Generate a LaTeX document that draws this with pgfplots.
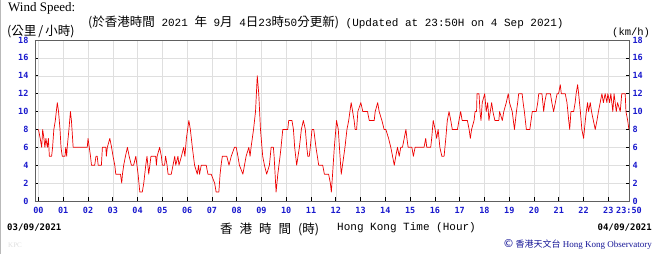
\documentclass[border=0pt]{standalone}
\usepackage{pgfplots}
\pgfplotsset{compat=1.18}
\usepackage{pgfplotstable}
\usepackage{fontspec}
\setmainfont{Liberation Serif}
\newfontfamily\cjk{Noto Sans CJK TC}
\newfontfamily\mono{Liberation Mono}
\newfontfamily\tickfont{DejaVu Sans Mono}
\definecolor{tblue}{RGB}{25,25,205}
\definecolor{hkoblue}{RGB}{20,20,150}
\definecolor{wred}{RGB}{238,0,0}
\newcommand{\cj}[1]{{\cjk\fontsize{12.5}{13}\selectfont #1}}

\pgfplotstableread{
h v
0.00 8
0.07 7
0.13 6
0.17 8
0.22 7
0.26 6
0.30 7
0.36 6
0.40 7
0.44 5
0.53 5
0.57 6
0.62 8
0.68 9
0.76 11
0.81 10
0.87 8
0.91 6
0.96 5
1.07 5
1.10 6
1.14 5
1.16 6
1.23 8
1.29 10
1.33 9
1.40 6
1.97 6
2.00 7
2.05 6
2.10 5
2.14 4
2.27 4
2.32 5
2.37 5
2.41 4
2.54 4
2.58 6
2.72 6
2.74 5
2.78 6
2.88 7
2.95 6
3.01 5
3.08 4
3.12 3
3.31 3
3.36 2
3.39 3
3.44 4
3.51 5
3.59 6
3.66 5
3.75 4
3.84 4
3.93 5
4.02 3
4.09 1
4.19 1
4.25 2
4.33 4
4.38 5
4.45 3
4.54 5
4.73 5
4.76 4
4.79 5
4.89 6
4.96 5
5.00 4
5.09 4
5.13 5
5.19 4
5.23 3
5.36 3
5.43 4
5.50 5
5.54 4
5.63 5
5.67 4
5.77 5
5.86 6
5.91 5
5.97 7
6.07 9
6.13 8
6.21 6
6.30 4
6.41 3
6.46 4
6.50 3
6.57 4
6.77 4
6.84 3
6.97 3
7.11 2
7.17 1
7.28 1
7.33 3
7.37 4
7.42 5
7.60 5
7.69 4
7.78 5
7.91 6
7.98 6
8.05 5
8.11 4
8.25 3
8.38 5
8.49 6
8.54 5
8.58 6
8.68 8
8.76 10
8.83 14
8.89 12
8.96 8
9.05 5
9.12 4
9.21 3
9.32 4
9.39 6
9.48 6
9.51 5
9.55 3
9.59 1
9.66 3
9.75 5
9.79 6
9.86 8
10.06 8
10.10 9
10.23 9
10.29 8
10.34 6
10.42 4
10.53 6
10.61 8
10.69 9
10.77 8
10.83 6
10.87 5
10.93 5
10.97 6
11.04 8
11.11 8
11.20 6
11.31 4
11.47 4
11.54 3
11.71 3
11.78 2
11.82 1
11.87 3
11.94 6
12.03 9
12.10 8
12.17 5
12.22 3
12.27 4
12.37 6
12.45 8
12.52 9
12.62 11
12.68 10
12.74 9
12.78 8
12.84 8
12.89 10
13.01 11
13.09 10
13.28 10
13.35 9
13.55 9
13.59 10
13.69 11
13.75 10
13.86 9
13.95 8
14.02 8
14.13 7
14.22 6
14.29 5
14.36 4
14.42 5
14.49 6
14.56 5
14.62 6
14.69 6
14.76 7
14.83 8
14.87 7
14.92 6
15.07 6
15.13 5
15.20 6
15.56 6
15.63 7
15.67 6
15.83 6
15.87 7
15.93 9
16.01 8
16.07 7
16.13 8
16.20 6
16.28 5
16.37 5
16.44 7
16.50 9
16.57 10
16.64 9
16.70 8
16.91 8
16.97 9
17.04 10
17.10 9
17.31 9
17.38 8
17.43 7
17.48 8
17.58 9
17.62 10
17.68 10
17.70 12
17.78 12
17.82 10
17.86 9
17.91 11
18.01 12
18.07 10
18.13 11
18.18 9
18.29 11
18.34 10
18.42 9
18.58 9
18.61 10
18.72 9
18.78 10
18.88 11
18.96 12
19.01 11
19.12 10
19.21 8
19.25 9
19.29 10
19.34 11
19.38 12
19.52 12
19.56 11
19.61 10
19.69 8
19.83 8
19.88 9
19.93 10
20.09 10
20.15 11
20.19 12
20.32 12
20.39 10
20.43 11
20.50 12
20.66 12
20.72 11
20.79 10
20.86 11
20.93 12
20.99 12
21.06 13
21.10 12
21.26 12
21.33 11
21.40 9
21.44 8
21.49 10
21.60 10
21.66 11
21.70 12
21.76 13
21.80 12
21.87 10
21.93 8
22.00 7
22.07 9
22.11 10
22.16 11
22.20 10
22.27 11
22.32 10
22.47 8
22.54 9
22.60 10
22.67 11
22.74 12
22.80 11
22.87 12
22.94 11
22.98 12
23.05 11
23.10 12
23.18 10
23.23 12
23.32 10
23.37 11
23.48 10
23.54 12
23.68 12
23.71 10
23.78 9
23.83 8
}\wind

\begin{document}
\begin{tikzpicture}
\path[use as bounding box] (-35pt,-53pt) rectangle (621pt,201pt);
\draw[gray!55, line width=1pt] (-34.5pt,-53pt) -- (-34.5pt,201pt);
\begin{axis}[
  at={(0pt,0pt)}, anchor=south west,
  scale only axis, width=594pt, height=161pt,
  xmin=-0.14, xmax=23.833, ymin=0, ymax=18,
  xtick={0,1,...,23,23.833},
  xticklabels={00,01,02,03,04,05,06,07,08,09,10,11,12,13,14,15,16,17,18,19,20,21,22,23,23:50},
  ytick={0,2,...,18},
  xtick pos=bottom, ytick pos=both, yticklabel pos=left,
  tick align=inside, major tick length=3.5pt,
  tick style={black, line width=0.7pt},
  grid=major, major grid style={gray!25, line width=0.5pt},
  axis line style={gray!75!black, line width=0.8pt},
  /pgf/number format/assume math mode=true,
  ticklabel style={font=\tickfont\bfseries\fontsize{8.5}{10}\selectfont, text=tblue},
  x tick label style={yshift=-2.5pt},
  y tick label style={xshift=-3pt},
]
\addplot[wred, line width=0.7pt, line join=round] table[x=h,y=v] {\wind};
\end{axis}
\begin{axis}[
  at={(0pt,0pt)}, anchor=south west,
  scale only axis, width=594pt, height=161pt,
  xmin=-0.14, xmax=23.833, ymin=0, ymax=18,
  xtick=\empty, ytick={0,2,...,18},
  yticklabel pos=right, major tick length=0pt,
  axis line style={draw=none},
  /pgf/number format/assume math mode=true,
  ticklabel style={font=\tickfont\bfseries\fontsize{8.5}{10}\selectfont, text=tblue},
]
\end{axis}
\node[anchor=west, inner sep=0pt, font=\fontsize{13}{15}\selectfont] at (-27pt,193pt) {Wind Speed:};
\node[anchor=west, inner sep=0pt, font=\cjk\fontsize{12.5}{14}\selectfont] at (-28pt,170pt) {(公里\,/\,小時)};
\node[anchor=west, inner sep=0pt, font=\mono\fontsize{11}{12}\selectfont] at (53pt,179pt) {\cj{(於香港時間} 2021 \cj{年} 9\cj{月} 4\cj{日}23\cj{時}50\cj{分更新)} (Updated at 23:50H on 4 Sep 2021)};
\node[anchor=west, inner sep=0pt, font=\mono\fontsize{10.5}{12}\selectfont] at (577pt,168pt) {(km/h)};
\node[anchor=west, inner sep=0pt, font=\tickfont\bfseries\fontsize{9}{11}\selectfont] at (-28pt,-27pt) {03/09/2021};
\node[anchor=east, inner sep=0pt, font=\tickfont\bfseries\fontsize{9}{11}\selectfont] at (617pt,-27pt) {04/09/2021};
\node[anchor=west, inner sep=0pt, font=\cjk\fontsize{12.5}{14}\selectfont] at (185pt,-28pt) {香\hspace{7pt}港\hspace{7pt}時\hspace{7pt}間\hspace{7pt}(時)};
\node[anchor=west, inner sep=0pt, font=\mono\fontsize{11}{13}\selectfont] at (302pt,-27pt) {Hong Kong Time (Hour)};
\node[anchor=east, inner sep=0pt, text=hkoblue, font=\fontsize{9}{11}\selectfont] at (617pt,-43pt) {{\fontspec{DejaVu Sans}\fontsize{11}{12}\selectfont ©}\,{\cjk\fontsize{9}{11}\selectfont 香港天文台} Hong Kong Observatory};
\node[anchor=west, inner sep=0pt, text=gray!25, font=\fontsize{7}{8}\selectfont] at (-27pt,-44pt) {KPC};
\end{tikzpicture}
\end{document}
